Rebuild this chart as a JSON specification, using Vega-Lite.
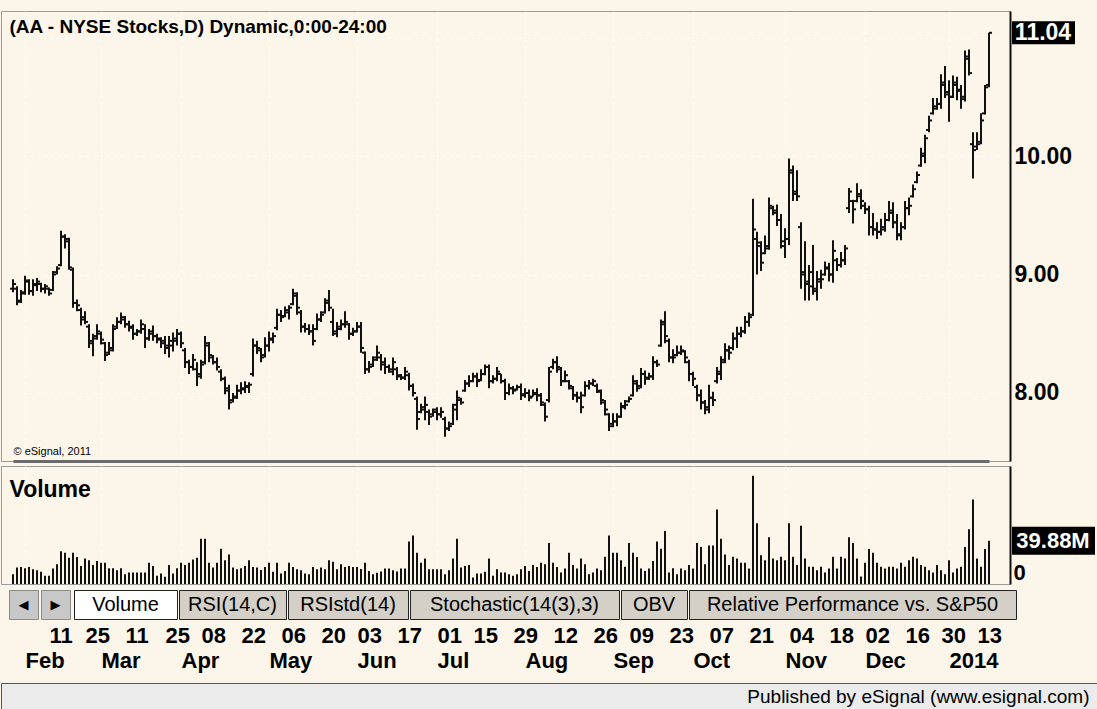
{
"$schema":"https://vega.github.io/schema/vega-lite/v6.json",
"background":"#FCF6EA",
"padding":{"left":0,"top":10,"right":0,"bottom":0},
"spacing":3,
"config":{"font":"Liberation Sans","view":{"stroke":null},"axis":{"labelColor":"#000","titleColor":"#000"},"title":{"color":"#000"}},
"datasets":{"aa":[
{"d":"2013-01-29","o":8.88,"h":8.96,"l":8.85,"c":8.92,"v":9.1},
{"d":"2013-01-30","o":8.88,"h":8.90,"l":8.74,"c":8.77,"v":15.1},
{"d":"2013-01-31","o":8.78,"h":8.87,"l":8.76,"c":8.84,"v":15.7},
{"d":"2013-02-01","o":8.85,"h":8.99,"l":8.83,"c":8.95,"v":14.5},
{"d":"2013-02-04","o":8.94,"h":8.96,"l":8.83,"c":8.86,"v":15.7},
{"d":"2013-02-05","o":8.86,"h":8.96,"l":8.82,"c":8.92,"v":13.6},
{"d":"2013-02-06","o":8.91,"h":8.97,"l":8.86,"c":8.94,"v":12.7},
{"d":"2013-02-07","o":8.92,"h":8.93,"l":8.85,"c":8.88,"v":11.2},
{"d":"2013-02-08","o":8.88,"h":8.92,"l":8.84,"c":8.90,"v":7.6},
{"d":"2013-02-11","o":8.88,"h":8.89,"l":8.82,"c":8.84,"v":7.6},
{"d":"2013-02-12","o":8.87,"h":9.03,"l":8.86,"c":9.00,"v":14.2},
{"d":"2013-02-13","o":9.02,"h":9.07,"l":9.00,"c":9.05,"v":18.1},
{"d":"2013-02-14","o":9.08,"h":9.37,"l":9.07,"c":9.32,"v":30.2},
{"d":"2013-02-15","o":9.32,"h":9.34,"l":9.22,"c":9.30,"v":28.7},
{"d":"2013-02-19","o":9.28,"h":9.31,"l":9.04,"c":9.06,"v":24.2},
{"d":"2013-02-20","o":9.04,"h":9.06,"l":8.72,"c":8.76,"v":28.7},
{"d":"2013-02-21","o":8.76,"h":8.79,"l":8.69,"c":8.74,"v":24.8},
{"d":"2013-02-22","o":8.70,"h":8.72,"l":8.57,"c":8.62,"v":16.6},
{"d":"2013-02-25","o":8.64,"h":8.69,"l":8.58,"c":8.60,"v":23.6},
{"d":"2013-02-26","o":8.56,"h":8.58,"l":8.38,"c":8.44,"v":21.8},
{"d":"2013-02-27","o":8.42,"h":8.50,"l":8.31,"c":8.46,"v":17.5},
{"d":"2013-02-28","o":8.48,"h":8.58,"l":8.45,"c":8.52,"v":21.1},
{"d":"2013-03-01","o":8.50,"h":8.52,"l":8.41,"c":8.45,"v":19.6},
{"d":"2013-03-04","o":8.42,"h":8.43,"l":8.27,"c":8.32,"v":19.6},
{"d":"2013-03-05","o":8.34,"h":8.43,"l":8.32,"c":8.36,"v":14.5},
{"d":"2013-03-06","o":8.38,"h":8.58,"l":8.35,"c":8.54,"v":14.5},
{"d":"2013-03-07","o":8.56,"h":8.64,"l":8.54,"c":8.60,"v":12.7},
{"d":"2013-03-08","o":8.60,"h":8.68,"l":8.58,"c":8.64,"v":14.5},
{"d":"2013-03-11","o":8.62,"h":8.65,"l":8.55,"c":8.58,"v":9.1},
{"d":"2013-03-12","o":8.58,"h":8.61,"l":8.52,"c":8.55,"v":10.6},
{"d":"2013-03-13","o":8.56,"h":8.58,"l":8.45,"c":8.50,"v":10.6},
{"d":"2013-03-14","o":8.50,"h":8.54,"l":8.48,"c":8.52,"v":10.6},
{"d":"2013-03-15","o":8.52,"h":8.62,"l":8.50,"c":8.58,"v":10.6},
{"d":"2013-03-18","o":8.54,"h":8.58,"l":8.38,"c":8.46,"v":10.6},
{"d":"2013-03-19","o":8.46,"h":8.54,"l":8.44,"c":8.50,"v":19.6},
{"d":"2013-03-20","o":8.52,"h":8.57,"l":8.44,"c":8.48,"v":16.6},
{"d":"2013-03-21","o":8.48,"h":8.50,"l":8.42,"c":8.46,"v":7.6},
{"d":"2013-03-22","o":8.45,"h":8.47,"l":8.38,"c":8.42,"v":9.7},
{"d":"2013-03-25","o":8.44,"h":8.48,"l":8.33,"c":8.40,"v":6.6},
{"d":"2013-03-26","o":8.38,"h":8.48,"l":8.30,"c":8.44,"v":17.5},
{"d":"2013-03-27","o":8.40,"h":8.51,"l":8.35,"c":8.46,"v":9.7},
{"d":"2013-03-28","o":8.44,"h":8.54,"l":8.40,"c":8.50,"v":14.5},
{"d":"2013-04-01","o":8.50,"h":8.52,"l":8.38,"c":8.42,"v":19.6},
{"d":"2013-04-02","o":8.36,"h":8.38,"l":8.21,"c":8.26,"v":17.5},
{"d":"2013-04-03","o":8.26,"h":8.28,"l":8.16,"c":8.22,"v":19.6},
{"d":"2013-04-04","o":8.22,"h":8.33,"l":8.19,"c":8.28,"v":22.7},
{"d":"2013-04-05","o":8.20,"h":8.26,"l":8.06,"c":8.14,"v":24.2},
{"d":"2013-04-08","o":8.16,"h":8.28,"l":8.12,"c":8.24,"v":41.7},
{"d":"2013-04-09","o":8.26,"h":8.48,"l":8.24,"c":8.42,"v":41.7},
{"d":"2013-04-10","o":8.40,"h":8.43,"l":8.26,"c":8.32,"v":19.6},
{"d":"2013-04-11","o":8.30,"h":8.32,"l":8.24,"c":8.26,"v":15.1},
{"d":"2013-04-12","o":8.26,"h":8.30,"l":8.19,"c":8.22,"v":19.6},
{"d":"2013-04-15","o":8.18,"h":8.20,"l":8.10,"c":8.12,"v":32.6},
{"d":"2013-04-16","o":8.12,"h":8.14,"l":7.99,"c":8.02,"v":21.8},
{"d":"2013-04-17","o":8.04,"h":8.07,"l":7.86,"c":7.92,"v":27.2},
{"d":"2013-04-18","o":7.94,"h":8.00,"l":7.92,"c":7.96,"v":15.1},
{"d":"2013-04-19","o":7.97,"h":8.07,"l":7.95,"c":8.02,"v":13.6},
{"d":"2013-04-22","o":8.02,"h":8.09,"l":7.99,"c":8.04,"v":14.5},
{"d":"2013-04-23","o":8.03,"h":8.10,"l":8.00,"c":8.06,"v":16.6},
{"d":"2013-04-24","o":8.05,"h":8.09,"l":8.00,"c":8.07,"v":21.8},
{"d":"2013-04-25","o":8.16,"h":8.46,"l":8.14,"c":8.40,"v":15.7},
{"d":"2013-04-26","o":8.40,"h":8.44,"l":8.33,"c":8.38,"v":15.1},
{"d":"2013-04-29","o":8.36,"h":8.38,"l":8.26,"c":8.30,"v":13.0},
{"d":"2013-04-30","o":8.32,"h":8.47,"l":8.30,"c":8.40,"v":15.7},
{"d":"2013-05-01","o":8.40,"h":8.52,"l":8.35,"c":8.46,"v":19.6},
{"d":"2013-05-02","o":8.45,"h":8.51,"l":8.42,"c":8.48,"v":11.2},
{"d":"2013-05-03","o":8.55,"h":8.71,"l":8.53,"c":8.66,"v":19.6},
{"d":"2013-05-06","o":8.66,"h":8.70,"l":8.60,"c":8.64,"v":9.7},
{"d":"2013-05-07","o":8.65,"h":8.73,"l":8.64,"c":8.70,"v":12.1},
{"d":"2013-05-08","o":8.68,"h":8.74,"l":8.62,"c":8.72,"v":19.6},
{"d":"2013-05-09","o":8.75,"h":8.88,"l":8.74,"c":8.84,"v":15.7},
{"d":"2013-05-10","o":8.82,"h":8.85,"l":8.66,"c":8.72,"v":13.6},
{"d":"2013-05-13","o":8.68,"h":8.70,"l":8.51,"c":8.56,"v":12.7},
{"d":"2013-05-14","o":8.56,"h":8.59,"l":8.51,"c":8.54,"v":9.7},
{"d":"2013-05-15","o":8.54,"h":8.58,"l":8.49,"c":8.52,"v":9.1},
{"d":"2013-05-16","o":8.52,"h":8.58,"l":8.40,"c":8.44,"v":15.7},
{"d":"2013-05-17","o":8.54,"h":8.67,"l":8.53,"c":8.62,"v":13.6},
{"d":"2013-05-20","o":8.62,"h":8.69,"l":8.60,"c":8.66,"v":15.1},
{"d":"2013-05-21","o":8.68,"h":8.80,"l":8.67,"c":8.76,"v":13.6},
{"d":"2013-05-22","o":8.78,"h":8.87,"l":8.69,"c":8.72,"v":21.8},
{"d":"2013-05-23","o":8.60,"h":8.71,"l":8.48,"c":8.52,"v":20.5},
{"d":"2013-05-24","o":8.50,"h":8.60,"l":8.47,"c":8.54,"v":13.6},
{"d":"2013-05-28","o":8.56,"h":8.62,"l":8.53,"c":8.58,"v":18.1},
{"d":"2013-05-29","o":8.58,"h":8.69,"l":8.55,"c":8.60,"v":15.7},
{"d":"2013-05-30","o":8.58,"h":8.59,"l":8.45,"c":8.50,"v":16.6},
{"d":"2013-05-31","o":8.50,"h":8.55,"l":8.48,"c":8.52,"v":15.7},
{"d":"2013-06-03","o":8.52,"h":8.60,"l":8.51,"c":8.56,"v":15.7},
{"d":"2013-06-04","o":8.56,"h":8.60,"l":8.34,"c":8.38,"v":13.9},
{"d":"2013-06-05","o":8.34,"h":8.35,"l":8.16,"c":8.20,"v":19.6},
{"d":"2013-06-06","o":8.20,"h":8.27,"l":8.17,"c":8.22,"v":12.1},
{"d":"2013-06-07","o":8.24,"h":8.31,"l":8.22,"c":8.28,"v":9.1},
{"d":"2013-06-10","o":8.30,"h":8.40,"l":8.27,"c":8.34,"v":10.3},
{"d":"2013-06-11","o":8.30,"h":8.33,"l":8.19,"c":8.24,"v":11.5},
{"d":"2013-06-12","o":8.26,"h":8.30,"l":8.16,"c":8.22,"v":14.2},
{"d":"2013-06-13","o":8.22,"h":8.24,"l":8.17,"c":8.20,"v":14.2},
{"d":"2013-06-14","o":8.18,"h":8.30,"l":8.15,"c":8.26,"v":12.7},
{"d":"2013-06-17","o":8.20,"h":8.22,"l":8.11,"c":8.14,"v":11.5},
{"d":"2013-06-18","o":8.15,"h":8.16,"l":8.11,"c":8.13,"v":14.2},
{"d":"2013-06-19","o":8.13,"h":8.22,"l":8.11,"c":8.18,"v":14.2},
{"d":"2013-06-20","o":8.15,"h":8.17,"l":8.02,"c":8.06,"v":39.3},
{"d":"2013-06-21","o":8.06,"h":8.08,"l":7.97,"c":8.00,"v":44.7},
{"d":"2013-06-24","o":7.95,"h":7.97,"l":7.69,"c":7.78,"v":28.7},
{"d":"2013-06-25","o":7.84,"h":7.91,"l":7.83,"c":7.86,"v":19.6},
{"d":"2013-06-26","o":7.88,"h":7.97,"l":7.77,"c":7.90,"v":23.6},
{"d":"2013-06-27","o":7.84,"h":7.86,"l":7.73,"c":7.80,"v":13.6},
{"d":"2013-06-28","o":7.82,"h":7.87,"l":7.80,"c":7.84,"v":13.6},
{"d":"2013-07-01","o":7.86,"h":7.88,"l":7.77,"c":7.82,"v":13.6},
{"d":"2013-07-02","o":7.82,"h":7.88,"l":7.79,"c":7.84,"v":13.6},
{"d":"2013-07-03","o":7.78,"h":7.80,"l":7.63,"c":7.70,"v":9.1},
{"d":"2013-07-05","o":7.70,"h":7.76,"l":7.68,"c":7.72,"v":12.7},
{"d":"2013-07-08","o":7.74,"h":7.91,"l":7.73,"c":7.86,"v":23.6},
{"d":"2013-07-09","o":7.90,"h":8.02,"l":7.77,"c":7.96,"v":41.7},
{"d":"2013-07-10","o":7.94,"h":7.96,"l":7.90,"c":7.92,"v":15.1},
{"d":"2013-07-11","o":8.02,"h":8.11,"l":8.01,"c":8.08,"v":16.6},
{"d":"2013-07-12","o":8.08,"h":8.15,"l":8.05,"c":8.10,"v":17.5},
{"d":"2013-07-15","o":8.10,"h":8.17,"l":8.09,"c":8.14,"v":6.0},
{"d":"2013-07-16","o":8.14,"h":8.17,"l":8.05,"c":8.10,"v":9.7},
{"d":"2013-07-17","o":8.11,"h":8.20,"l":8.10,"c":8.16,"v":9.7},
{"d":"2013-07-18","o":8.16,"h":8.24,"l":8.15,"c":8.22,"v":11.2},
{"d":"2013-07-19","o":8.22,"h":8.24,"l":8.04,"c":8.10,"v":23.6},
{"d":"2013-07-22","o":8.10,"h":8.15,"l":8.08,"c":8.12,"v":7.6},
{"d":"2013-07-23","o":8.12,"h":8.22,"l":8.10,"c":8.18,"v":13.6},
{"d":"2013-07-24","o":8.16,"h":8.16,"l":8.08,"c":8.10,"v":10.6},
{"d":"2013-07-25","o":8.10,"h":8.12,"l":7.94,"c":8.00,"v":10.6},
{"d":"2013-07-26","o":8.00,"h":8.08,"l":7.98,"c":8.04,"v":9.1},
{"d":"2013-07-29","o":8.04,"h":8.06,"l":7.99,"c":8.02,"v":7.6},
{"d":"2013-07-30","o":8.03,"h":8.07,"l":8.02,"c":8.05,"v":9.1},
{"d":"2013-07-31","o":8.05,"h":8.08,"l":7.94,"c":7.98,"v":13.6},
{"d":"2013-08-01","o":7.99,"h":8.04,"l":7.96,"c":8.00,"v":16.6},
{"d":"2013-08-02","o":8.00,"h":8.03,"l":7.93,"c":7.96,"v":12.1},
{"d":"2013-08-05","o":7.97,"h":8.03,"l":7.97,"c":7.99,"v":17.5},
{"d":"2013-08-06","o":8.00,"h":8.04,"l":7.93,"c":7.98,"v":15.7},
{"d":"2013-08-07","o":7.98,"h":8.00,"l":7.89,"c":7.92,"v":19.6},
{"d":"2013-08-08","o":7.90,"h":7.92,"l":7.76,"c":7.80,"v":18.1},
{"d":"2013-08-09","o":7.94,"h":8.22,"l":7.92,"c":8.18,"v":37.8},
{"d":"2013-08-12","o":8.22,"h":8.29,"l":8.20,"c":8.26,"v":19.6},
{"d":"2013-08-13","o":8.26,"h":8.31,"l":8.17,"c":8.22,"v":15.7},
{"d":"2013-08-14","o":8.20,"h":8.22,"l":8.06,"c":8.10,"v":10.6},
{"d":"2013-08-15","o":8.10,"h":8.19,"l":8.09,"c":8.15,"v":14.2},
{"d":"2013-08-16","o":8.10,"h":8.11,"l":8.03,"c":8.06,"v":28.7},
{"d":"2013-08-19","o":8.04,"h":8.06,"l":7.94,"c":7.98,"v":17.5},
{"d":"2013-08-20","o":7.98,"h":8.01,"l":7.92,"c":7.96,"v":14.2},
{"d":"2013-08-21","o":7.96,"h":8.01,"l":7.83,"c":7.88,"v":23.6},
{"d":"2013-08-22","o":7.98,"h":8.10,"l":7.97,"c":8.06,"v":18.1},
{"d":"2013-08-23","o":8.06,"h":8.11,"l":8.03,"c":8.08,"v":9.1},
{"d":"2013-08-26","o":8.08,"h":8.12,"l":8.06,"c":8.10,"v":10.6},
{"d":"2013-08-27","o":8.06,"h":8.08,"l":8.00,"c":8.02,"v":14.2},
{"d":"2013-08-28","o":8.01,"h":8.03,"l":7.90,"c":7.94,"v":12.7},
{"d":"2013-08-29","o":7.92,"h":7.94,"l":7.81,"c":7.86,"v":25.1},
{"d":"2013-08-30","o":7.82,"h":7.83,"l":7.68,"c":7.72,"v":44.7},
{"d":"2013-09-03","o":7.74,"h":7.83,"l":7.71,"c":7.76,"v":28.7},
{"d":"2013-09-04","o":7.76,"h":7.83,"l":7.72,"c":7.80,"v":28.7},
{"d":"2013-09-05","o":7.80,"h":7.92,"l":7.79,"c":7.88,"v":21.8},
{"d":"2013-09-06","o":7.89,"h":7.94,"l":7.86,"c":7.90,"v":16.0},
{"d":"2013-09-09","o":7.93,"h":7.97,"l":7.92,"c":7.95,"v":37.8},
{"d":"2013-09-10","o":7.98,"h":8.15,"l":7.97,"c":8.10,"v":28.7},
{"d":"2013-09-11","o":8.08,"h":8.11,"l":8.01,"c":8.04,"v":24.8},
{"d":"2013-09-12","o":8.06,"h":8.21,"l":8.04,"c":8.16,"v":14.2},
{"d":"2013-09-13","o":8.16,"h":8.19,"l":8.07,"c":8.12,"v":12.1},
{"d":"2013-09-16","o":8.13,"h":8.17,"l":8.11,"c":8.14,"v":14.2},
{"d":"2013-09-17","o":8.14,"h":8.31,"l":8.11,"c":8.26,"v":21.1},
{"d":"2013-09-18","o":8.26,"h":8.28,"l":8.22,"c":8.24,"v":39.3},
{"d":"2013-09-19","o":8.40,"h":8.62,"l":8.39,"c":8.58,"v":32.6},
{"d":"2013-09-20","o":8.60,"h":8.69,"l":8.42,"c":8.48,"v":48.9},
{"d":"2013-09-23","o":8.44,"h":8.46,"l":8.26,"c":8.30,"v":10.6},
{"d":"2013-09-24","o":8.30,"h":8.37,"l":8.25,"c":8.30,"v":14.5},
{"d":"2013-09-25","o":8.32,"h":8.40,"l":8.31,"c":8.34,"v":9.1},
{"d":"2013-09-26","o":8.34,"h":8.40,"l":8.32,"c":8.36,"v":14.2},
{"d":"2013-09-27","o":8.35,"h":8.36,"l":8.25,"c":8.30,"v":12.7},
{"d":"2013-09-30","o":8.26,"h":8.28,"l":8.10,"c":8.16,"v":17.5},
{"d":"2013-10-01","o":8.16,"h":8.18,"l":8.06,"c":8.12,"v":14.2},
{"d":"2013-10-02","o":8.05,"h":8.07,"l":7.93,"c":7.98,"v":37.8},
{"d":"2013-10-03","o":7.98,"h":8.03,"l":7.86,"c":7.92,"v":34.1},
{"d":"2013-10-04","o":7.92,"h":7.94,"l":7.82,"c":7.88,"v":18.1},
{"d":"2013-10-07","o":7.86,"h":8.07,"l":7.83,"c":7.96,"v":35.6},
{"d":"2013-10-08","o":7.96,"h":8.01,"l":7.89,"c":7.94,"v":35.6},
{"d":"2013-10-09","o":8.10,"h":8.22,"l":8.08,"c":8.18,"v":68.6},
{"d":"2013-10-10","o":8.16,"h":8.31,"l":8.11,"c":8.26,"v":41.7},
{"d":"2013-10-11","o":8.28,"h":8.42,"l":8.25,"c":8.36,"v":27.2},
{"d":"2013-10-14","o":8.36,"h":8.40,"l":8.28,"c":8.34,"v":17.5},
{"d":"2013-10-15","o":8.38,"h":8.51,"l":8.36,"c":8.46,"v":25.1},
{"d":"2013-10-16","o":8.46,"h":8.56,"l":8.38,"c":8.50,"v":23.6},
{"d":"2013-10-17","o":8.50,"h":8.56,"l":8.47,"c":8.52,"v":19.6},
{"d":"2013-10-18","o":8.52,"h":8.65,"l":8.50,"c":8.60,"v":19.6},
{"d":"2013-10-21","o":8.60,"h":8.68,"l":8.56,"c":8.64,"v":14.2},
{"d":"2013-10-22","o":8.66,"h":9.64,"l":8.65,"c":9.38,"v":99.7},
{"d":"2013-10-23","o":9.30,"h":9.36,"l":9.00,"c":9.27,"v":55.9},
{"d":"2013-10-24","o":9.24,"h":9.28,"l":9.03,"c":9.10,"v":26.6},
{"d":"2013-10-25","o":9.18,"h":9.33,"l":9.17,"c":9.22,"v":21.8},
{"d":"2013-10-28","o":9.24,"h":9.65,"l":9.21,"c":9.58,"v":43.2},
{"d":"2013-10-29","o":9.56,"h":9.58,"l":9.50,"c":9.52,"v":23.6},
{"d":"2013-10-30","o":9.54,"h":9.59,"l":9.41,"c":9.46,"v":21.8},
{"d":"2013-10-31","o":9.46,"h":9.51,"l":9.22,"c":9.28,"v":25.1},
{"d":"2013-11-01","o":9.24,"h":9.39,"l":9.14,"c":9.30,"v":21.8},
{"d":"2013-11-04","o":9.30,"h":9.98,"l":9.25,"c":9.88,"v":55.9},
{"d":"2013-11-05","o":9.86,"h":9.92,"l":9.62,"c":9.68,"v":25.1},
{"d":"2013-11-06","o":9.70,"h":9.88,"l":9.62,"c":9.66,"v":17.5},
{"d":"2013-11-07","o":9.40,"h":9.44,"l":8.88,"c":9.00,"v":53.8},
{"d":"2013-11-08","o":9.02,"h":9.28,"l":8.78,"c":8.92,"v":23.6},
{"d":"2013-11-11","o":8.94,"h":9.08,"l":8.78,"c":8.90,"v":16.0},
{"d":"2013-11-12","o":9.02,"h":9.25,"l":8.83,"c":8.88,"v":16.0},
{"d":"2013-11-13","o":8.86,"h":9.03,"l":8.78,"c":8.96,"v":12.7},
{"d":"2013-11-14","o":8.94,"h":9.04,"l":8.88,"c":8.96,"v":16.0},
{"d":"2013-11-15","o":9.00,"h":9.11,"l":8.99,"c":9.05,"v":10.6},
{"d":"2013-11-18","o":9.06,"h":9.10,"l":8.94,"c":9.00,"v":14.2},
{"d":"2013-11-19","o":9.00,"h":9.29,"l":8.93,"c":9.20,"v":25.1},
{"d":"2013-11-20","o":9.12,"h":9.14,"l":9.03,"c":9.08,"v":14.2},
{"d":"2013-11-21","o":9.08,"h":9.19,"l":9.06,"c":9.12,"v":25.1},
{"d":"2013-11-22","o":9.12,"h":9.25,"l":9.08,"c":9.22,"v":23.6},
{"d":"2013-11-25","o":9.56,"h":9.73,"l":9.52,"c":9.70,"v":43.2},
{"d":"2013-11-26","o":9.62,"h":9.63,"l":9.43,"c":9.55,"v":37.8},
{"d":"2013-11-27","o":9.62,"h":9.77,"l":9.61,"c":9.66,"v":23.6},
{"d":"2013-11-29","o":9.68,"h":9.72,"l":9.55,"c":9.62,"v":6.9},
{"d":"2013-12-02","o":9.58,"h":9.61,"l":9.51,"c":9.55,"v":19.6},
{"d":"2013-12-03","o":9.55,"h":9.58,"l":9.33,"c":9.40,"v":32.3},
{"d":"2013-12-04","o":9.40,"h":9.52,"l":9.33,"c":9.38,"v":28.7},
{"d":"2013-12-05","o":9.38,"h":9.44,"l":9.30,"c":9.36,"v":19.6},
{"d":"2013-12-06","o":9.36,"h":9.47,"l":9.33,"c":9.38,"v":16.0},
{"d":"2013-12-09","o":9.40,"h":9.52,"l":9.36,"c":9.46,"v":14.2},
{"d":"2013-12-10","o":9.46,"h":9.62,"l":9.45,"c":9.52,"v":16.0},
{"d":"2013-12-11","o":9.54,"h":9.61,"l":9.39,"c":9.44,"v":16.0},
{"d":"2013-12-12","o":9.44,"h":9.51,"l":9.29,"c":9.33,"v":14.2},
{"d":"2013-12-13","o":9.34,"h":9.44,"l":9.29,"c":9.40,"v":19.6},
{"d":"2013-12-16","o":9.40,"h":9.62,"l":9.38,"c":9.56,"v":16.0},
{"d":"2013-12-17","o":9.56,"h":9.65,"l":9.50,"c":9.58,"v":21.8},
{"d":"2013-12-18","o":9.66,"h":9.76,"l":9.65,"c":9.72,"v":25.1},
{"d":"2013-12-19","o":9.78,"h":9.87,"l":9.77,"c":9.84,"v":23.6},
{"d":"2013-12-20","o":9.92,"h":10.07,"l":9.91,"c":10.02,"v":17.5},
{"d":"2013-12-23","o":10.00,"h":10.18,"l":9.94,"c":10.15,"v":16.0},
{"d":"2013-12-24","o":10.22,"h":10.34,"l":10.20,"c":10.30,"v":12.7},
{"d":"2013-12-26","o":10.36,"h":10.49,"l":10.35,"c":10.40,"v":10.6},
{"d":"2013-12-27","o":10.42,"h":10.49,"l":10.39,"c":10.44,"v":17.5},
{"d":"2013-12-30","o":10.44,"h":10.69,"l":10.40,"c":10.60,"v":12.7},
{"d":"2013-12-31","o":10.62,"h":10.76,"l":10.49,"c":10.52,"v":9.1},
{"d":"2014-01-02","o":10.54,"h":10.64,"l":10.29,"c":10.50,"v":21.8},
{"d":"2014-01-03","o":10.50,"h":10.68,"l":10.49,"c":10.62,"v":10.6},
{"d":"2014-01-06","o":10.60,"h":10.67,"l":10.47,"c":10.55,"v":14.2},
{"d":"2014-01-07","o":10.56,"h":10.60,"l":10.40,"c":10.48,"v":16.0},
{"d":"2014-01-08","o":10.50,"h":10.89,"l":10.46,"c":10.82,"v":34.1},
{"d":"2014-01-09","o":10.84,"h":10.90,"l":10.68,"c":10.70,"v":50.5},
{"d":"2014-01-10","o":10.10,"h":10.20,"l":9.81,"c":10.05,"v":77.9},
{"d":"2014-01-13","o":10.08,"h":10.20,"l":10.05,"c":10.10,"v":23.6},
{"d":"2014-01-14","o":10.12,"h":10.36,"l":10.10,"c":10.30,"v":16.0},
{"d":"2014-01-15","o":10.36,"h":10.60,"l":10.35,"c":10.58,"v":32.3},
{"d":"2014-01-16","o":10.60,"h":11.04,"l":10.58,"c":11.04,"v":39.88}
]},
"vconcat":[
{
"width":1009,"height":450,
"data":{"name":"aa"},
"view":{"stroke":"#9a9a9a","strokeWidth":1},
"encoding":{"x":{"field":"d","type":"ordinal","sort":null,"scale":{"type":"point","range":[12,988],"padding":0},
"axis":{"orient":"bottom","values":["2013-02-01","2013-03-01","2013-04-01","2013-05-01","2013-06-03","2013-07-01","2013-08-01","2013-09-03","2013-10-01","2013-11-01","2013-12-02","2014-01-02"],"labels":false,"ticks":false,"grid":true,"gridColor":"#ffffff","gridDash":[2,5],"gridWidth":1,"gridOpacity":1,"domain":true,"domainColor":"#6b6b6b","domainWidth":3,"title":"© eSignal, 2011","titleX":12,"titleY":-7,"titleAlign":"left","titleBaseline":"alphabetic","titleFontSize":11,"titleFontWeight":"normal","titleFont":"Liberation Sans"}}},
"layer":[
{"mark":{"type":"rule","strokeWidth":2,"color":"#111"},
 "encoding":{"y":{"field":"l","type":"quantitative","scale":{"domain":[7.426,11.224],"nice":false,"zero":false},
  "axis":{"orient":"right","values":[8,9,10,11],"labelExpr":"datum.value == 11 ? '' : format(datum.value, '.2f')","grid":true,"gridColor":"#ffffff","gridDash":[2,5],"gridWidth":1,"gridOpacity":1,"ticks":false,"domain":true,"domainColor":"#111","domainWidth":2,"labelFont":"Liberation Sans","labelFontSize":23,"labelFontWeight":"bold","labelPadding":4,"labelAlign":"left","labelBaseline":"middle",
  "title":"(AA - NYSE Stocks,D) Dynamic,0:00-24:00","titleAngle":0,"titleX":-1001,"titleY":21,"titleAlign":"left","titleBaseline":"alphabetic","titleFont":"Liberation Sans","titleFontSize":19,"titleFontWeight":"bold"}},
  "y2":{"field":"h"}}},
{"mark":{"type":"rule","strokeWidth":2,"color":"#111","xOffset":-3},
 "encoding":{"x2":{"field":"d"},"y":{"field":"o","type":"quantitative"}}},
{"mark":{"type":"rule","strokeWidth":2,"color":"#111","x2Offset":3},
 "encoding":{"x2":{"field":"d"},"y":{"field":"c","type":"quantitative"}}},
{"transform":[{"filter":"datum.d == '2014-01-16'"}],
 "mark":{"type":"rule","strokeWidth":23,"strokeCap":"butt","color":"#000","xOffset":23,"x2Offset":86},
 "encoding":{"x2":{"field":"d"},"y":{"field":"c","type":"quantitative"}}},
{"transform":[{"filter":"datum.d == '2014-01-16'"}],
 "mark":{"type":"text","dx":54,"align":"center","baseline":"middle","fontSize":23,"fontWeight":"bold","color":"#ffffff"},
 "encoding":{"y":{"field":"c","type":"quantitative"},"text":{"field":"c","type":"quantitative","format":".2f"}}}
]
},
{
"width":1009,"height":118,
"data":{"name":"aa"},
"view":{"stroke":"#9a9a9a","strokeWidth":1},
"encoding":{"x":{"field":"d","type":"ordinal","sort":null,"scale":{"type":"point","range":[12,988],"padding":0},
"axis":{"orient":"bottom","values":["2013-02-01","2013-03-01","2013-04-01","2013-05-01","2013-06-03","2013-07-01","2013-08-01","2013-09-03","2013-10-01","2013-11-01","2013-12-02","2014-01-02"],"labels":false,"ticks":false,"grid":true,"gridColor":"#ffffff","gridDash":[2,5],"gridWidth":1,"gridOpacity":1,"domain":false,"title":null}}},
"layer":[
{"mark":{"type":"rule","strokeWidth":2,"color":"#111"},
 "encoding":{"y":{"field":"v","type":"quantitative","scale":{"domain":[0,108.8],"nice":false},
  "axis":{"orient":"right","values":[0],"ticks":false,"grid":false,"domain":true,"domainColor":"#111","domainWidth":2,"labelFont":"Liberation Sans","labelFontSize":22,"labelFontWeight":"bold","labelPadding":3,"labelBaseline":"bottom","labelAlign":"left",
  "title":"Volume","titleAngle":0,"titleX":-1001,"titleY":30,"titleAlign":"left","titleBaseline":"alphabetic","titleFont":"Liberation Sans","titleFontSize":23,"titleFontWeight":"bold"}},
  "y2":{"datum":0}}},
{"transform":[{"filter":"datum.d == '2014-01-16'"}],
 "mark":{"type":"rule","strokeWidth":28,"strokeCap":"butt","color":"#000","xOffset":23,"x2Offset":106},
 "encoding":{"x2":{"field":"d"},"y":{"field":"v","type":"quantitative"}}},
{"transform":[{"filter":"datum.d == '2014-01-16'"},{"calculate":"format(datum.v, '.2f') + 'M'","as":"lbl"}],
 "mark":{"type":"text","dx":64,"align":"center","baseline":"middle","fontSize":22,"fontWeight":"bold","color":"#ffffff"},
 "encoding":{"y":{"field":"v","type":"quantitative"},"text":{"field":"lbl","type":"nominal"}}}
]
},
{
"spacing":0,
"hconcat":[
{"width":7,"height":29,"view":{"fill":"#FCF6EA"},"data":{"values":[{"t":""}]},"mark":{"type":"text"},"encoding":{"text":{"field":"t","type":"nominal"}}},
{"width":29,"height":29,"view":{"fill":"#C8C8C8","stroke":"#8a8a8a","strokeWidth":1},"data":{"values":[{"t":"◀"}]},"mark":{"type":"text","font":"DejaVu Sans","fontSize":13,"color":"#000"},"encoding":{"text":{"field":"t","type":"nominal"}}},
{"width":1,"height":29,"view":{"fill":"#FCF6EA"},"data":{"values":[{"t":""}]},"mark":{"type":"text"},"encoding":{"text":{"field":"t","type":"nominal"}}},
{"width":29,"height":29,"view":{"fill":"#C8C8C8","stroke":"#8a8a8a","strokeWidth":1},"data":{"values":[{"t":"▶"}]},"mark":{"type":"text","font":"DejaVu Sans","fontSize":13,"color":"#000"},"encoding":{"text":{"field":"t","type":"nominal"}}},
{"width":2,"height":29,"view":{"fill":"#FCF6EA"},"data":{"values":[{"t":""}]},"mark":{"type":"text"},"encoding":{"text":{"field":"t","type":"nominal"}}},
{"width":103,"height":29,"view":{"fill":"#ffffff","stroke":"#222","strokeWidth":1},"data":{"values":[{"t":"Volume"}]},"mark":{"type":"text","fontSize":20,"color":"#000"},"encoding":{"text":{"field":"t","type":"nominal"}}},
{"width":107,"height":29,"view":{"fill":"#D4D0C8","stroke":"#222","strokeWidth":1},"data":{"values":[{"t":"RSI(14,C)"}]},"mark":{"type":"text","fontSize":20,"color":"#000"},"encoding":{"text":{"field":"t","type":"nominal"}}},
{"width":120,"height":29,"view":{"fill":"#D4D0C8","stroke":"#222","strokeWidth":1},"data":{"values":[{"t":"RSIstd(14)"}]},"mark":{"type":"text","fontSize":20,"color":"#000"},"encoding":{"text":{"field":"t","type":"nominal"}}},
{"width":209,"height":29,"view":{"fill":"#D4D0C8","stroke":"#222","strokeWidth":1},"data":{"values":[{"t":"Stochastic(14(3),3)"}]},"mark":{"type":"text","fontSize":20,"color":"#000"},"encoding":{"text":{"field":"t","type":"nominal"}}},
{"width":66,"height":29,"view":{"fill":"#D4D0C8","stroke":"#222","strokeWidth":1},"data":{"values":[{"t":"OBV"}]},"mark":{"type":"text","fontSize":20,"color":"#000"},"encoding":{"text":{"field":"t","type":"nominal"}}},
{"width":327,"height":29,"view":{"fill":"#D4D0C8","stroke":"#222","strokeWidth":1},"data":{"values":[{"t":"Relative Performance vs. S&P50"}]},"mark":{"type":"text","fontSize":20,"color":"#000"},"encoding":{"text":{"field":"t","type":"nominal"}}}
]
},
{
"width":1096,"height":26,
"data":{"name":"aa"},
"view":{"fill":"#EBEBEB","stroke":"#555","strokeWidth":1},
"mark":{"type":"rule","opacity":0},
"encoding":{"x":{"field":"d","type":"ordinal","sort":null,"scale":{"type":"point","range":[12,988],"padding":0},
 "axis":{"orient":"top","values":["2013-02-01","2013-02-11","2013-02-25","2013-03-01","2013-03-11","2013-03-25","2013-04-01","2013-04-08","2013-04-22","2013-05-01","2013-05-06","2013-05-20","2013-06-03","2013-06-17","2013-07-01","2013-07-15","2013-07-29","2013-08-01","2013-08-12","2013-08-26","2013-09-03","2013-09-09","2013-09-23","2013-10-01","2013-10-07","2013-10-21","2013-11-01","2013-11-04","2013-11-18","2013-12-02","2013-12-16","2013-12-30","2014-01-02","2014-01-13"],
 "labelExpr":"[indexof(['2013-02-11','2013-02-25','2013-03-11','2013-03-25','2013-04-08','2013-04-22','2013-05-06','2013-05-20','2013-06-03','2013-06-17','2013-07-01','2013-07-15','2013-07-29','2013-08-12','2013-08-26','2013-09-09','2013-09-23','2013-10-07','2013-10-21','2013-11-04','2013-11-18','2013-12-02','2013-12-16','2013-12-30','2014-01-13'], datum.value) >= 0 ? substring(datum.value, 8, 10) : '', indexof(['2013-02-01','2013-03-01','2013-04-01','2013-05-01','2013-06-03','2013-07-01','2013-08-01','2013-09-03','2013-10-01','2013-11-01','2013-12-02'], datum.value) >= 0 ? ['Jan','Feb','Mar','Apr','May','Jun','Jul','Aug','Sep','Oct','Nov','Dec'][toNumber(substring(datum.value, 5, 7)) - 1] : (datum.value == '2014-01-02' ? '2014' : '')]",
 "offset":36,"ticks":false,"tickSize":0,"labelPadding":0,"labelAngle":0,"domain":false,"grid":false,"labelAlign":"left","labelBaseline":"bottom","labelLineHeight":25,"labelFont":"Liberation Sans","labelFontSize":22,"labelFontWeight":"bold","labelOverlap":false,"labelFlush":false,"labelBound":false,
 "title":"Published by eSignal (www.esignal.com)","titleX":1088,"titleY":55,"titleAlign":"right","titleAnchor":null,"titleAngle":0,"titleBaseline":"alphabetic","titleFontSize":19,"titleFontWeight":"normal","titleFont":"Liberation Sans"}}}
}
]
}
